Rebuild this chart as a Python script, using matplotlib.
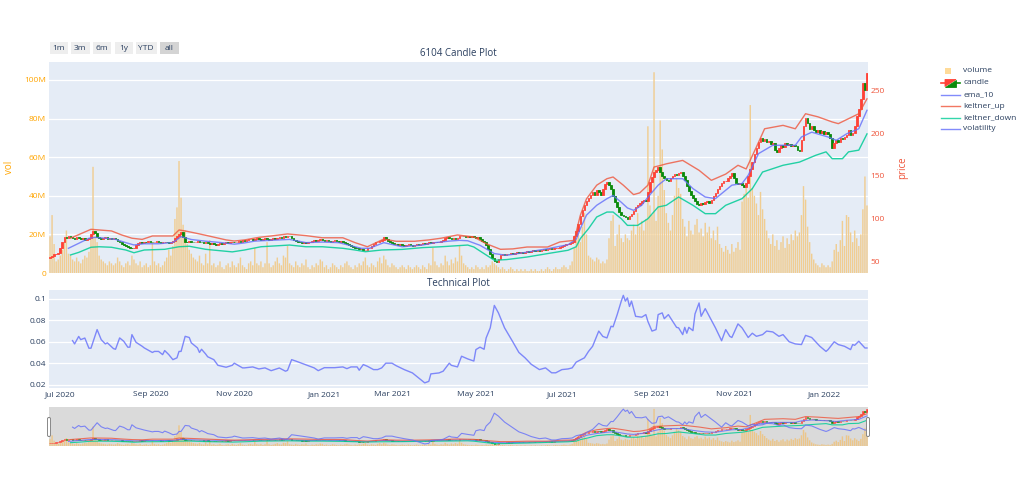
import matplotlib
matplotlib.use('Agg')
import matplotlib.pyplot as plt
import numpy as np
import pandas as pd
from matplotlib.patches import Rectangle, FancyBboxPatch, Polygon
from matplotlib.lines import Line2D

plt.rcParams['font.family'] = ['Open Sans', 'DejaVu Sans']

# trading days (weekdays minus TWSE holidays)
holidays = ['2020-06-25', '2020-06-26', '2020-10-01', '2020-10-02', '2020-10-09',
            '2021-01-01', '2021-02-08', '2021-02-09', '2021-02-10', '2021-02-11',
            '2021-02-12', '2021-02-15', '2021-02-16', '2021-03-01', '2021-04-02',
            '2021-04-05', '2021-04-30', '2021-06-14', '2021-09-20', '2021-09-21',
            '2021-10-11', '2021-12-31', '2022-01-27', '2022-01-28', '2022-01-31',
            '2022-02-01', '2022-02-02', '2022-02-03', '2022-02-04']
days = pd.bdate_range('2020-06-22', '2022-02-10')
days = days[~days.isin(pd.to_datetime(holidays))]

# daily close
close = [
    55, 56, 58, 59, 60, 66, 72, 78, 77, 79,
    78, 77, 76, 78, 77, 76, 77, 75, 76, 77,
    82, 86, 83, 78, 77, 76, 77, 78, 76, 77,
    76, 77, 76, 74, 72, 70, 69, 68, 67, 66,
    65, 66, 69, 71, 72, 71, 73, 72, 74, 73,
    72, 73, 74, 72, 71, 72, 73, 72, 71, 72,
    74, 77, 80, 82, 84, 78, 73, 72, 74, 73,
    72, 73, 74, 73, 72, 71, 72, 71, 70, 71,
    70, 69, 70, 71, 70, 71, 72, 71, 72, 73,
    72, 73, 74, 73, 75, 74, 75, 76, 76, 75,
    76, 77, 76, 75, 76, 77, 76, 75, 76, 77,
    76, 77, 78, 77, 79, 78, 80, 79, 77, 75,
    74, 73, 72, 71, 72, 71, 72, 73, 74, 75,
    74, 75, 76, 75, 74, 75, 74, 73, 74, 75,
    74, 73, 74, 72, 71, 70, 69, 68, 67, 66,
    65, 64, 64, 63, 63, 65, 66, 68, 70, 72,
    73, 74, 75, 78, 76, 74, 72, 71, 70, 70,
    69, 70, 69, 68, 69, 70, 69, 68, 69, 70,
    69, 70, 71, 70, 71, 72, 71, 72, 73, 72,
    73, 74, 75, 77, 78, 77, 76, 77, 76, 77,
    79, 80, 79, 78, 79, 78, 79, 78, 77, 78,
    76, 74, 72, 69, 64, 59, 54, 50, 49, 53,
    57, 58, 57, 59, 58, 60, 59, 60, 61, 60,
    61, 60, 61, 62, 61, 62, 63, 62, 63, 62,
    63, 64, 63, 64, 65, 64, 65, 66, 66, 67,
    68, 69, 70, 70, 71, 73, 79, 86, 94, 103,
    110, 116, 121, 124, 127, 131, 128, 133, 131, 128,
    134, 140, 143, 139, 135, 126, 119, 113, 108, 104,
    103, 102, 100, 103, 105, 109, 113, 116, 118, 121,
    122, 120, 131, 143, 149, 154, 157, 160, 155, 150,
    147, 145, 144, 148, 150, 152, 151, 153, 155, 150,
    145, 138, 132, 127, 124, 120, 117, 116, 118, 117,
    119, 121, 118, 122, 126, 130, 135, 138, 141, 144,
    144, 147, 150, 153, 148, 142, 140, 141, 139, 137,
    142, 150, 158, 166, 175, 182, 190, 194, 191, 193,
    189, 191, 187, 188, 180, 178, 183, 186, 184, 188,
    186, 187, 185, 186, 185, 180, 179, 192, 208, 218,
    212, 205, 208, 204, 201, 203, 200, 202, 199, 201,
    199, 194, 182, 188, 192, 190, 194, 193, 195, 198,
    203, 198, 200, 208, 220, 228, 240, 258, 250, 270,
]
first_open = 54

# daily volume, millions of shares
volume = [
    19, 30, 15, 6, 7, 9, 12, 16, 22, 10,
    9, 7, 6, 8, 6, 5, 7, 9, 8, 11,
    18, 55, 19, 16, 9, 7, 6, 5, 4, 6,
    5, 4, 5, 8, 6, 4, 3, 5, 6, 4,
    9, 7, 5, 4, 6, 3, 4, 5, 3, 4,
    16, 6, 4, 5, 3, 4, 6, 8, 12, 9,
    14, 28, 34, 58, 39, 25, 22, 15, 12, 10,
    8, 7, 6, 9, 5, 4, 10, 5, 17, 4,
    5, 3, 4, 6, 3, 2, 4, 5, 3, 6,
    4, 3, 5, 8, 4, 3, 2, 5, 6, 4,
    13, 5, 4, 6, 3, 5, 16, 5, 3, 4,
    6, 8, 5, 4, 9, 8, 14, 5, 4, 3,
    6, 4, 3, 5, 4, 7, 3, 2, 4, 3,
    5, 4, 7, 6, 3, 4, 2, 3, 5, 4,
    3, 2, 4, 3, 5, 6, 4, 3, 2, 4,
    3, 5, 4, 6, 8, 4, 3, 5, 4, 3,
    6, 8, 5, 9, 7, 4, 3, 5, 4, 3,
    2, 3, 4, 3, 2, 4, 3, 2, 3, 4,
    3, 2, 4, 3, 2, 5, 4, 13, 6, 4,
    3, 5, 4, 9, 6, 4, 7, 5, 8, 6,
    14, 9, 5, 4, 3, 2, 3, 2, 4, 3,
    2, 3, 2, 4, 3, 4, 6, 5, 4, 3,
    2, 3, 2, 1, 2, 3, 2, 1, 2, 1,
    2, 1, 2, 1, 1, 2, 1, 2, 1, 1,
    2, 1, 2, 3, 2, 1, 2, 3, 2, 2,
    3, 4, 3, 2, 4, 6, 13, 18, 21, 16,
    24, 31, 20, 9, 8, 7, 6, 8, 7, 5,
    6, 5, 7, 18, 27, 30, 14, 20, 25, 18,
    16, 20, 18, 17, 22, 25, 20, 31, 24, 27,
    22, 28, 76, 35, 30, 104, 27, 40, 79, 64,
    43, 31, 26, 22, 30, 40, 49, 44, 41, 28,
    24, 19, 27, 22, 20, 25, 28, 21, 23, 19,
    26, 21, 24, 18, 22, 17, 24, 15, 13, 11,
    14, 12, 10, 15, 11, 13, 16, 12, 37, 41,
    44, 39, 87, 44, 40, 36, 30, 42, 33, 28,
    22, 18, 15, 20, 14, 17, 12, 16, 19, 13,
    18, 15, 20, 17, 22, 19, 21, 30, 45, 38,
    24, 16, 10, 7, 5, 4, 3, 5, 4, 3,
    4, 3, 6, 12, 15, 11, 17, 27, 14, 30,
    29, 21, 16, 22, 18, 14, 20, 33, 50, 35,
]

# indicator lines: (trading-day index, value)
ema_days = [9, 14, 19, 22, 27, 32, 37, 41, 46, 53, 60, 64, 69, 76, 84, 90, 95, 100, 117, 125,
            133, 141, 152, 156, 163, 172, 182, 188, 195, 200, 204, 210, 217, 223, 233, 243, 253, 257, 259, 262,
            267, 272, 275, 279, 282, 285, 289, 292, 297, 301, 309, 314, 320, 325, 333, 338, 341, 346, 353, 364,
            367, 372, 380, 384, 389, 395, 399]
ema_vals = [65.2, 71, 76.9, 78, 77, 75.6, 71.8, 69.1, 70.5, 70.5, 72, 78.8, 75.5, 73.5, 71.8, 70, 71.5, 73.6, 75.6, 71.8,
            72.5, 71.8, 65.2, 65.2, 71.8, 67, 69, 71.8, 73.6, 74.5, 74, 68.7, 59, 57, 60.7, 64.7, 69.4, 76, 88.2, 104,
            115.5, 123.2, 127, 119, 112.4, 109.6, 115.5, 125, 139, 146.6, 146.6, 135, 125.2, 123.3, 139, 141, 150.6, 175.9, 185.7, 185.7,
            195.4, 201, 195.4, 191.5, 199, 205, 226.6]

up_days = [10, 20, 30, 35, 40, 45, 50, 60, 63, 66, 73, 79, 86, 90, 95, 102, 108, 116, 125, 133,
           143, 149, 155, 163, 169, 178, 185, 191, 199, 207, 213, 220, 226, 233, 243, 249, 256, 259, 262, 267,
           272, 275, 280, 285, 288, 292, 295, 298, 301, 309, 317, 323, 330, 336, 340, 345, 349, 358, 364, 369,
           375, 382, 385, 390, 395, 399]
up_vals = [77, 87.4, 85.5, 80.8, 77, 75.6, 79.6, 79.6, 86.6, 85.5, 82, 78.8, 75, 73.7, 75, 78, 79.6, 82, 80, 77.5,
           77.5, 71.8, 67, 76, 73.4, 73.4, 75, 77, 80.8, 78.4, 70.6, 64, 64.5, 66.7, 66.7, 72.6, 74.5, 103.8, 123, 139,
           146.6, 148.6, 139, 128, 130, 139, 160.3, 162, 164, 168, 156.4, 144.7, 152, 162.3, 158, 183.7, 205, 209, 205, 222.6,
           219, 213, 211, 216.8, 222.6, 240]

down_days = [10, 14, 20, 24, 30, 37, 41, 46, 56, 63, 68, 76, 89, 95, 103, 117, 125, 133, 143, 149,
             154, 162, 172, 182, 191, 204, 207, 217, 223, 233, 243, 253, 257, 259, 263, 267, 272, 275, 279, 282,
             287, 292, 297, 301, 307, 314, 320, 325, 330, 338, 343, 348, 358, 366, 374, 379, 382, 387, 390, 395,
             399]
down_vals = [57.4, 60.4, 66.4, 67, 66.4, 63.2, 60, 63.2, 64, 67, 67.6, 64, 61, 63.2, 67, 69, 67, 67, 65.2, 63.2,
             61.2, 63.2, 63.9, 66, 67, 69, 66.7, 51.2, 52, 55, 59, 62.9, 67, 76.5, 88.2, 101.8, 107.6, 107.6, 99.8, 92,
             92, 99.8, 113.5, 115.5, 125.2, 115.5, 105.7, 105.7, 115.5, 123.3, 135, 154.4, 162.3, 166, 174, 178, 170, 170, 178, 180,
             199]

vol_days = [11, 12, 14, 15, 17, 19, 20, 23, 25, 27, 28, 31, 32, 34, 36, 38, 39, 40, 42, 45,
            46, 50, 51, 53, 55, 56, 58, 60, 62, 63, 64, 66, 68, 69, 72, 73, 74, 76, 77, 80,
            82, 86, 89, 90, 94, 95, 99, 102, 105, 108, 112, 115, 116, 118, 120, 123, 126, 129, 131, 134,
            139, 143, 145, 147, 150, 151, 153, 155, 158, 160, 162, 164, 167, 169, 173, 177, 180, 183, 185, 186,
            190, 192, 195, 196, 199, 201, 204, 207, 208, 210, 212, 213, 215, 217, 219, 222, 226, 229, 232, 235,
            239, 242, 245, 247, 250, 253, 255, 257, 261, 263, 265, 268, 270, 272, 274, 275, 277, 279, 280, 281,
            282, 283, 284, 286, 289, 291, 292, 294, 296, 297, 299, 300, 302, 306, 307, 309, 310, 311, 312, 314,
            315, 317, 318, 320, 322, 325, 328, 330, 332, 333, 336, 338, 341, 343, 345, 348, 350, 353, 356, 358,
            361, 364, 367, 369, 372, 376, 379, 380, 383, 385, 388, 391, 392, 393, 395, 398, 399]
vol_vals = [.0611, .058, .065, .062, .0635, .054, .054, .0714, .062, .058, .059, .0536, .053, .0636, .0605, .0549, .055, .0667, .0595, .0558,
            .0543, .050, .051, .051, .048, .0518, .048, .0433, .045, .051, .051, .0651, .064, .059, .0543, .050, .053, .0486, .046, .0433,
            .038, .0362, .038, .040, .0356, .0356, .0365, .0346, .0356, .033, .0355, .0325, .0333, .0433, .042, .0399, .0377, .0356, .033, .0358,
            .0358, .0365, .0349, .0365, .0365, .0334, .0387, .0371, .034, .034, .0356, .040, .040, .0377, .034, .0309, .0262, .0216, .023, .030,
            .0309, .0325, .040, .038, .0365, .0465, .044, .042, .0527, .055, .053, .0636, .073, .094, .087, .073, .060, .050, .045, .039,
            .034, .0356, .031, .031, .034, .0346, .0356, .041, .045, .051, .0558, .070, .065, .0636, .0745, .074, .0854, .098, .1034, .098,
            .101, .093, .098, .0838, .083, .0854, .079, .070, .0714, .0854, .087, .0816, .0854, .0735, .073, .0667, .0735, .068, .0735, .0704,
            .086, .0963, .0838, .091, .0838, .073, .061, .0714, .0651, .064, .0767, .073, .064, .068, .0651, .0667, .070, .0692, .0651, .0667,
            .060, .058, .0574, .066, .064, .0558, .051, .0527, .060, .0574, .0558, .0527, .0574, .0567, .0605, .0542, .0542]

month_starts = ['2020-07-01', '2020-09-01', '2020-11-01', '2021-01-01', '2021-03-01',
                '2021-05-01', '2021-07-01', '2021-09-01', '2021-11-01', '2022-01-01']
month_labels = ['Jul 2020', 'Sep 2020', 'Nov 2020', 'Jan 2021', 'Mar 2021',
                'May 2021', 'Jul 2021', 'Sep 2021', 'Nov 2021', 'Jan 2022']

n = len(close)
days = days[:n]
idx = np.arange(n)
opens = np.array([first_open] + close[:-1], dtype=float)
closes = np.array(close, dtype=float)
tick_pos = [int(np.searchsorted(days, pd.Timestamp(m))) for m in month_starts]

INC = '#ff4136'
DEC = '#0a8a0a'
BG = '#e5ecf6'
TXT = '#2a3f5f'
C_EMA = '#636efa'
C_UP = '#ef553b'
C_DN = '#00cc96'
C_VOL = '#636efa'
C_BAR = '#f0cd92'
XLIM = (-0.5, n - 0.5)
VOL_LIM = (0, 109.3)
PRICE_LIM = (36.3, 283.1)
TECH_LIM = (0.0168, 0.1084)


def draw_candles(a, lw, w):
    up = closes >= opens
    cols = np.where(up, INC, DEC)
    bottom = np.minimum(opens, closes)
    height = np.abs(closes - opens)
    a.bar(idx, height, bottom=bottom, width=w, color=cols, edgecolor=cols, linewidth=lw)


def draw_lines(a, lw):
    a.plot(ema_days, ema_vals, color=C_EMA, alpha=0.8, lw=lw)
    a.plot(up_days, up_vals, color=C_UP, alpha=0.8, lw=lw)
    a.plot(down_days, down_vals, color=C_DN, alpha=0.85, lw=lw)


def draw_volume(a, col):
    bars = a.bar(idx, volume, width=0.7, color=col, linewidth=0)
    for b in bars:
        b.set_snap(False)


def px(x, y):
    return x / 1024, 1 - y / 495


fig = plt.figure(figsize=(10.24, 4.95), dpi=100)

# --- candle plot -------------------------------------------------------
ax = fig.add_axes([49 / 1024, 1 - 273 / 495, 819 / 1024, 211 / 495])
ax.set_facecolor(BG)
draw_volume(ax, C_BAR)
ax.set_xlim(*XLIM)
ax.set_ylim(*VOL_LIM)
ax.set_yticks([0, 20, 40, 60, 80, 100])
ax.set_yticklabels(['0', '20M', '40M', '60M', '80M', '100M'])
ax.tick_params(axis='y', colors='orange', labelsize=6, length=0, pad=2)
ax.set_xticks([])
ax.grid(axis='y', color='white', lw=0.9)
ax.set_axisbelow(True)
for s in ax.spines.values():
    s.set_visible(False)
ax.set_ylabel('vol', color='orange', fontsize=7)
ax.yaxis.set_label_coords(-0.042, 0.5)

axp = ax.twinx()
draw_candles(axp, 0.6, 0.8)
draw_lines(axp, 1.0)
axp.set_xlim(*XLIM)
axp.set_ylim(*PRICE_LIM)
axp.set_yticks([50, 100, 150, 200, 250])
axp.tick_params(axis='y', colors=C_UP, labelsize=6, length=0, pad=2)
for s in axp.spines.values():
    s.set_visible(False)
axp.set_ylabel('price', color=C_UP, fontsize=7)
axp.yaxis.set_label_coords(1.035, 0.5)

# --- technical plot ----------------------------------------------------
axt = fig.add_axes([49 / 1024, 1 - 388 / 495, 819 / 1024, 98 / 495])
axt.set_facecolor(BG)
axt.plot(vol_days, vol_vals, color=C_VOL, alpha=0.8, lw=1.0)
axt.set_xlim(*XLIM)
axt.set_ylim(*TECH_LIM)
axt.set_yticks([0.02, 0.04, 0.06, 0.08, 0.1])
axt.set_yticklabels(['0.02', '0.04', '0.06', '0.08', '0.1'])
axt.set_xticks(tick_pos)
axt.set_xticklabels(month_labels)
axt.tick_params(colors=TXT, labelsize=6, length=0, pad=2)
axt.grid(axis='y', color='white', lw=0.9)
axt.set_axisbelow(True)
for s in axt.spines.values():
    s.set_visible(False)

# --- range slider ------------------------------------------------------
axs = fig.add_axes([49 / 1024, 1 - 446 / 495, 819 / 1024, 39 / 495])
axs.set_facecolor('#dadada')
draw_volume(axs, '#ecc68a')
axs.set_xlim(*XLIM)
axs.set_ylim(*VOL_LIM)
axs2 = axs.twinx()
draw_candles(axs2, 0.4, 0.8)
draw_lines(axs2, 0.8)
axs2.set_ylim(*PRICE_LIM)
axs3 = axs.twinx()
axs3.plot(vol_days, vol_vals, color=C_VOL, alpha=0.8, lw=0.8)
axs3.set_ylim(*TECH_LIM)
for a in (axs, axs2, axs3):
    a.set_xlim(*XLIM)
    a.set_xticks([])
    a.set_yticks([])
    for s in a.spines.values():
        s.set_visible(False)

for hx in (47.5, 866.5):
    x0, y0 = px(hx, 436.5)
    fig.add_artist(FancyBboxPatch((x0, y0), 3 / 1024, 19 / 495,
                                  boxstyle='round,pad=0,rounding_size=0.002',
                                  transform=fig.transFigure, facecolor='white',
                                  edgecolor='#888888', lw=0.7))

# --- titles ------------------------------------------------------------
fig.text(*px(458.5, 53), '6104 Candle Plot', ha='center', va='center', fontsize=7, color=TXT)
fig.text(*px(458.5, 283), 'Technical Plot', ha='center', va='center', fontsize=7, color=TXT)

# --- range selector buttons -------------------------------------------
buttons = [('1m', 49.5, 67.5), ('3m', 71, 89.5), ('6m', 92.5, 111), ('1y', 114.5, 133),
           ('YTD', 135.5, 157), ('all', 160, 178.5)]
for label, bx0, bx1 in buttons:
    x0, y0 = px(bx0, 54)
    face = '#d4d4d4' if label == 'all' else '#eeeeee'
    fig.add_artist(Rectangle((x0, y0), (bx1 - bx0) / 1024, 11.5 / 495,
                             transform=fig.transFigure, facecolor=face, edgecolor='none'))
    fig.text(*px((bx0 + bx1) / 2, 48.3), label, ha='center', va='center', fontsize=6, color=TXT)

# --- legend ------------------------------------------------------------
leg_y = [71, 83, 94.5, 106, 117.5, 129]
leg_names = ['volume', 'candle', 'ema_10', 'keltner_up', 'keltner_down', 'volatility']
x0, y0 = px(944.5, 74)
fig.add_artist(Rectangle((x0, y0), 6 / 1024, 6 / 495, transform=fig.transFigure,
                         facecolor='orange', alpha=0.4, edgecolor='none'))
yc = leg_y[1]
fig.add_artist(Line2D([px(941, yc)[0], px(945, yc)[0]], [px(0, yc)[1]] * 2,
                      transform=fig.transFigure, color=INC, lw=1.2))
fig.add_artist(Line2D([px(956, yc)[0], px(960, yc)[0]], [px(0, yc)[1]] * 2,
                      transform=fig.transFigure, color=DEC, lw=1.2))
fig.add_artist(Polygon([px(945, yc - 3.5), px(956, yc - 3.5), px(945, yc + 3.5)],
                       closed=True, transform=fig.transFigure, facecolor=INC, edgecolor=INC, lw=0.6))
fig.add_artist(Polygon([px(956, yc - 3.5), px(956, yc + 3.5), px(945, yc + 3.5)],
                       closed=True, transform=fig.transFigure, facecolor=DEC, edgecolor=DEC, lw=0.6))
for name, col, yl in zip(leg_names[2:], [C_EMA, C_UP, C_DN, C_VOL], leg_y[2:]):
    fig.add_artist(Line2D([px(941, yl)[0], px(960, yl)[0]], [px(0, yl)[1]] * 2,
                          transform=fig.transFigure, color=col, alpha=0.8, lw=1.0))
for name, yl in zip(leg_names, leg_y):
    fig.text(*px(963, yl), name, ha='left', va='center', fontsize=6, color=TXT)

fig.savefig('out.png', dpi=100)
